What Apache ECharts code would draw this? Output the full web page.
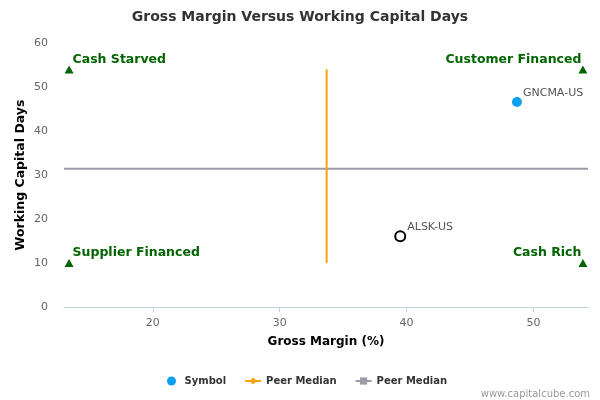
<!DOCTYPE html>
<html>
<head>
<meta charset="utf-8">
<script src="https://cdn.jsdelivr.net/npm/echarts@6/dist/echarts.min.js"></script>
<style>
    html, body { margin: 0; padding: 0; background: #fff; }
    #main { width: 600px; height: 400px; }
</style>
</head>
<body>
<div id="main"></div>
<script>
// 公司点位: [毛利率, 营运资本天数, 代码]
var symbolPoints = [
    [48.7, 46.6, 'GNCMA-US'],
    [39.5, 16.1, 'ALSK-US']
];
// 同行中位数
var peerMedianX = 33.7;
var peerMedianY = 31.4;
var verticalLine = [[peerMedianX, 10], [peerMedianX, 54]];
var horizontalLine = [[13.0, peerMedianY], [54.3, peerMedianY]];
// 四象限标记
var quadrantLeft = [[13.4, 54, 'Cash Starved'], [13.4, 10, 'Supplier Financed']];
var quadrantRight = [[53.9, 54, 'Customer Financed'], [53.9, 10, 'Cash Rich']];
var xTicks = [20, 30, 40, 50];

var font = 'DejaVu Sans';
var myChart = echarts.init(document.getElementById('main'));

var pointStyles = [
    {color: '#0aa0f0', borderWidth: 0, opacity: 1},
    {color: '#ffffff', borderColor: '#000000', borderWidth: 2, opacity: 1}
];

var option = {
    animation: false,
    title: {
        text: 'Gross Margin Versus Working Capital Days',
        left: 'center',
        top: 5,
        textStyle: {fontFamily: font, fontSize: 14, fontWeight: 'bold', color: '#333333'}
    },
    grid: {left: 64, right: 12, top: 43, bottom: 93},
    legend: {
        bottom: 9,
        left: 162,
        itemWidth: 16,
        itemHeight: 9,
        itemGap: 18,
        textStyle: {fontFamily: font, fontSize: 10, fontWeight: 'bold', color: '#333333'},
        data: ['Symbol', 'Peer Median', 'Peer Median ']
    },
    graphic: [{
        type: 'text',
        right: 10,
        bottom: 1,
        style: {text: 'www.capitalcube.com', fill: '#999999', font: '10px "DejaVu Sans"'}
    }],
    xAxis: {
        type: 'value',
        min: 13.0,
        max: 54.3,
        name: 'Gross Margin (%)',
        nameLocation: 'middle',
        nameGap: 29,
        nameTextStyle: {fontFamily: font, fontSize: 12, fontWeight: 'bold', color: '#000000'},
        splitLine: {show: false},
        axisLine: {lineStyle: {color: '#c0d0e0'}},
        axisTick: {show: true, length: 5, customValues: xTicks, lineStyle: {color: '#c0d0e0'}},
        axisLabel: {customValues: xTicks, margin: 11, fontFamily: font, fontSize: 11, color: '#666666'}
    },
    yAxis: {
        type: 'value',
        min: 0,
        max: 60,
        interval: 10,
        name: 'Working Capital Days',
        nameLocation: 'middle',
        nameGap: 37,
        nameMoveOverlap: false,
        nameTextStyle: {fontFamily: font, fontSize: 12.5, fontWeight: 'bold', color: '#000000'},
        splitLine: {show: false},
        axisLine: {show: false},
        axisTick: {show: false},
        axisLabel: {margin: 16, fontFamily: font, fontSize: 11, color: '#666666'}
    },
    series: [
        {
            name: 'Symbol',
            type: 'scatter',
            symbol: 'circle',
            symbolSize: 10,
            itemStyle: {color: '#0aa0f0', opacity: 1},
            data: symbolPoints.map(function (p, i) {
                return {value: p, itemStyle: pointStyles[i]};
            }),
            label: {
                show: true,
                position: 'right',
                distance: 0,
                offset: [1, -9],
                formatter: function (p) { return p.value[2]; },
                fontFamily: font, fontSize: 11, color: '#555555'
            },
            z: 5
        },
        {
            name: 'Peer Median',
            type: 'line',
            symbol: 'diamond',
            showSymbol: false,
            lineStyle: {color: '#f7a30b', width: 2},
            itemStyle: {color: '#f7a30b'},
            data: verticalLine,
            z: 3
        },
        {
            name: 'Peer Median ',
            type: 'line',
            symbol: 'rect',
            showSymbol: false,
            lineStyle: {color: '#9a9ca8', width: 2},
            itemStyle: {color: '#9a9ca8'},
            data: horizontalLine,
            z: 2
        },
        {
            name: 'quadrantLeft',
            type: 'scatter',
            symbol: 'triangle',
            symbolSize: [9, 8],
            itemStyle: {color: '#006400', opacity: 1},
            data: quadrantLeft,
            label: {
                show: true,
                position: 'right',
                distance: 0,
                offset: [-1, -10],
                formatter: function (p) { return p.value[2]; },
                fontFamily: font, fontSize: 12.5, fontWeight: 'bold', color: '#006400'
            }
        },
        {
            name: 'quadrantRight',
            type: 'scatter',
            symbol: 'triangle',
            symbolSize: [9, 8],
            itemStyle: {color: '#006400', opacity: 1},
            data: quadrantRight,
            label: {
                show: true,
                position: 'left',
                distance: 0,
                offset: [3, -10],
                formatter: function (p) { return p.value[2]; },
                fontFamily: font, fontSize: 12.5, fontWeight: 'bold', color: '#006400'
            }
        }
    ]
};

myChart.setOption(option);
</script>
</body>
</html>
